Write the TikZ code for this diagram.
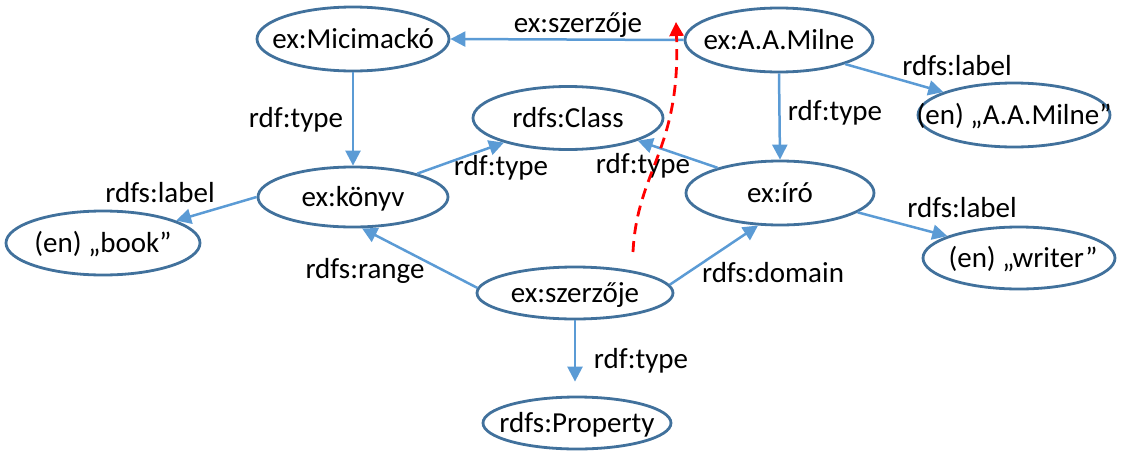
\documentclass[tikz,border=0pt]{standalone}
\usepackage{fontspec}
\setmainfont{Carlito}
\usetikzlibrary{shapes.geometric,arrows.meta}
\definecolor{nodeline}{HTML}{41719C}
\definecolor{edgeblue}{HTML}{5B9BD5}
\newcommand{\ctext}[1]{\makebox[0pt]{\raisebox{-0.322em}[0pt][0pt]{#1}}}
\tikzset{
  res/.style args={#1/#2}{ellipse, draw=nodeline, line width=2.8pt, inner sep=0pt,
    minimum width=#1pt, minimum height=#2pt},
  rel/.style={draw=edgeblue, line width=2.5pt,
    -{Triangle[length=15pt,width=15pt]}},
  lbl/.style={anchor=base, inner sep=0pt},
  hint/.style={draw=red, line width=2.8pt, dash pattern=on 11pt off 7pt,
    -{Triangle[length=14pt,width=14pt]}}
}
\begin{document}
\begin{tikzpicture}[x=1pt, y=-1pt, font=\fontsize{29}{34}\selectfont]
\useasboundingbox (0,0) rectangle (1122,450);

% resources and literals
\node[res=192/64] (mici)   at (353,39)   {\ctext{ex:Micimackó}};
\node[res=188/64] (milne)  at (779,40)   {\ctext{ex:A.A.Milne}};
\node[res=190/63] (class)  at (568,118)  {\ctext{rdfs:Class}};
\node[res=190/60] (konyv)  at (353,197)  {\ctext{ex:könyv}};
\node[res=188/64] (iro)    at (780,193)  {\ctext{ex:író}};
\node[res=196/52] (szer)   at (575,293)  {\ctext{ex:szerzője}};
\node[res=188/52] (prop)   at (577,423)  {\ctext{rdfs:Property}};
\node[res=192/64] (aam)    at (1014,115) {\ctext{(en) „A.A.Milne”}};
\node[res=194/64] (book)   at (103,243)  {\ctext{(en) „book”}};
\node[res=192/62] (writer) at (1019,258) {\ctext{\hspace{8pt}(en) „writer”}};

% triples
\draw[rel] (milne.west) -- (mici.east);
\draw[rel] (milne.-20) -- (aam.162);
\draw[rel] (milne.south) -- (iro.north);
\draw[rel] (mici.south) -- (konyv.north);
\draw[rel] (konyv.20) -- (class.-159);
\draw[rel] (konyv.west) -- (book.17);
\draw[rel] (iro.158) -- (class.-18);
\draw[rel] (iro.-14) -- (writer.163);
\draw[rel] (szer.177) -- (konyv.-74);
\draw[rel] (szer.5) -- (iro.-124);
\draw[rel, shorten >=14pt] (szer.south) -- (szer.south |- prop.north);

% predicate labels
\node[lbl] (l1)  at (578,32)  {ex:szerzője};
\node[lbl] (l2)  at (957,75)  {rdfs:label};
\node[lbl] (l3)  at (296,127) {rdf:type};
\node[lbl] (l4)  at (835,120) {rdf:type};
\node[lbl] (l5)  at (501,175) {rdf:type};
\node[lbl] (l6)  at (643,173) {rdf:type};
\node[lbl] (l7)  at (160,202) {rdfs:label};
\node[lbl] (l8)  at (962,217) {rdfs:label};
\node[lbl] (l9)  at (365,278) {rdfs:range};
\node[lbl] (l10) at (773,282) {rdfs:domain};
\node[lbl] (l11) at (641,368) {rdf:type};

% inferred statement
\coordinate (hs) at (633,252);
\coordinate (he) at (676,22);
\draw[hint] (hs) .. controls (637,170) and (681,150) .. (he);
\end{tikzpicture}
\end{document}
